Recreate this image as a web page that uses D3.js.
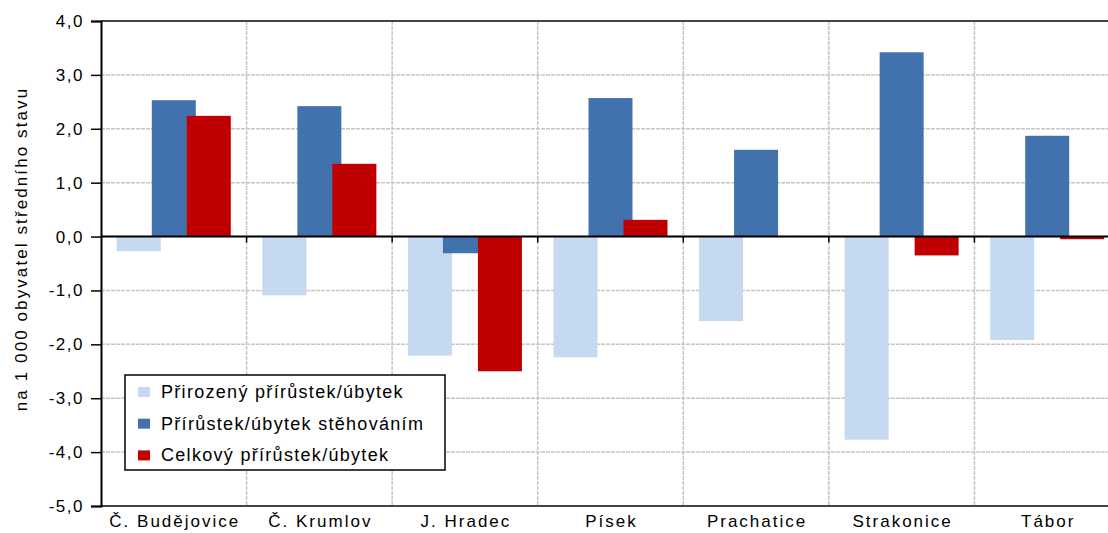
<!DOCTYPE html>
<html><head><meta charset="utf-8">
<script src="https://cdn.jsdelivr.net/npm/d3@7/dist/d3.min.js"></script>
<style>
body{margin:0;background:#fff;}
text{font-family:"Liberation Sans",Arial,sans-serif;fill:#000;}
</style></head><body>
<svg id="c" width="1108" height="533"></svg>
<script>
const categories = ["Č. Budějovice","Č. Krumlov","J. Hradec","Písek","Prachatice","Strakonice","Tábor"];
const seriesNames = ["Přirozený přírůstek/úbytek","Přírůstek/úbytek stěhováním","Celkový přírůstek/úbytek"];
const natural   = [-0.27,-1.09,-2.21,-2.24,-1.57,-3.77,-1.92];
const migration = [ 2.53, 2.42,-0.31, 2.57, 1.61, 3.42, 1.87];
const total     = [ 2.24, 1.35,-2.50, 0.31, 0.00,-0.35,-0.05];
const yTicks = [4,3,2,1,0,-1,-2,-3,-4,-5];
const colors = ["#c5d9f1","#4272ad","#c00000"];
const yTitle = "na 1 000 obyvatel středního stavu";

const svg = d3.select("#c");
const L=101, T=21, R=1120, B=506;
const x = d3.scaleBand().domain(categories).range([L,R]).padding(0);
const y = d3.scaleLinear().domain([-5,4]).range([B,T]);
const fmt = v => d3.format(".1f")(v).replace(".",",").replace("−","-");

// grid
svg.append("g").selectAll("line").data(yTicks).join("line")
  .attr("x1",L).attr("x2",R).attr("y1",d=>y(d)).attr("y2",d=>y(d))
  .attr("stroke","#c6c6c6").attr("stroke-width",1.5).attr("stroke-dasharray","4,1");
svg.append("g").selectAll("line").data(categories.slice(1)).join("line")
  .attr("x1",d=>x(d)).attr("x2",d=>x(d)).attr("y1",T).attr("y2",B)
  .attr("stroke","#c6c6c6").attr("stroke-width",1.5).attr("stroke-dasharray","4,1");

// bars
const series=[natural,migration,total];
const bw=44, off=35;
series.forEach((vals,si)=>{
  svg.append("g").selectAll("rect").data(vals).join("rect")
    .attr("x",(d,i)=>x(categories[i])+x.bandwidth()/2+(si-1)*off-bw/2)
    .attr("width",bw)
    .attr("y",d=>y(Math.max(0,d)))
    .attr("height",d=>Math.abs(y(d)-y(0)))
    .attr("fill",colors[si]);
});

// borders
svg.append("line").attr("x1",L).attr("x2",R).attr("y1",T).attr("y2",T).attr("stroke","#444").attr("stroke-width",2);
svg.append("line").attr("x1",L).attr("x2",R).attr("y1",B).attr("y2",B).attr("stroke","#444").attr("stroke-width",2);
// y axis
const ya = svg.append("g").attr("transform",`translate(${L},0)`)
  .call(d3.axisLeft(y).tickValues(yTicks).tickSize(10).tickFormat(fmt));
ya.select(".domain").attr("stroke","#000").attr("stroke-width",2);
ya.selectAll(".tick line").attr("stroke","#000").attr("stroke-width",1.5);
ya.selectAll(".tick text").attr("font-size",17).attr("x",-17).attr("fill","#333")
  .style("letter-spacing","1.5px")
  .style("font-family","'Liberation Sans',Arial,sans-serif");
// zero line with ticks
svg.append("line").attr("x1",L).attr("x2",R).attr("y1",y(0)).attr("y2",y(0)).attr("stroke","#000").attr("stroke-width",2);
svg.append("g").selectAll("line").data(categories.slice(1)).join("line")
  .attr("x1",d=>x(d)).attr("x2",d=>x(d)).attr("y1",y(0)).attr("y2",y(0)+6)
  .attr("stroke","#000").attr("stroke-width",1.5);

// category labels
svg.append("g").selectAll("text").data(categories).join("text")
  .attr("x",d=>x(d)+x.bandwidth()/2+1).attr("y",527)
  .attr("text-anchor","middle").attr("font-size",17).attr("fill","#222")
  .style("letter-spacing","2px").text(d=>d);

// y title
svg.append("text").attr("transform","translate(27,249) rotate(-90)")
  .attr("text-anchor","middle").attr("font-size",17).attr("fill","#222")
  .style("letter-spacing","2.1px").text(yTitle);

// legend
const lg = svg.append("g");
lg.append("rect").attr("x",125).attr("y",375).attr("width",320).attr("height",95)
  .attr("fill","#fff").attr("stroke","#000").attr("stroke-width",1.5);
seriesNames.forEach((n,i)=>{
  const base=398+i*31.7;
  lg.append("rect").attr("x",138).attr("y",base-11).attr("width",12).attr("height",10).attr("fill",colors[i]);
  lg.append("text").attr("x",161).attr("y",base).attr("font-size",18).attr("fill","#222")
    .style("letter-spacing","1.3px").text(n);
});
</script></body></html>
